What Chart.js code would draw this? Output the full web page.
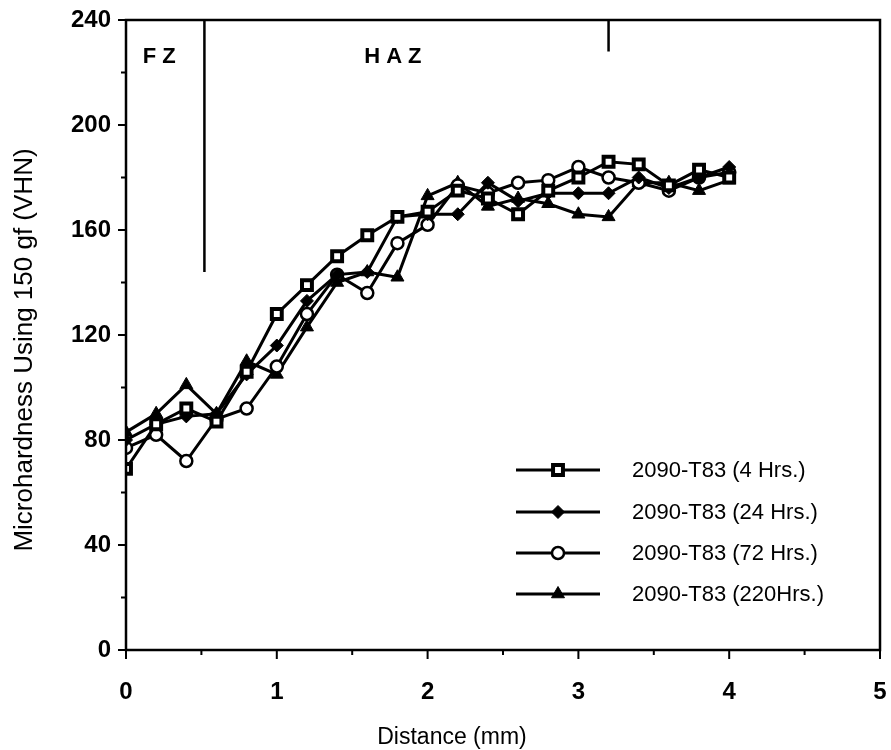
<!DOCTYPE html>
<html>
<head>
<meta charset="utf-8">
<script src="https://cdn.jsdelivr.net/npm/chart.js@4.4.1/dist/chart.umd.min.js"></script>
<style>
  html, body { margin: 0; padding: 0; background: #fff; }
  #wrap { width: 891px; height: 750px; }
</style>
</head>
<body>
<div id="wrap"><canvas id="chart" width="891" height="750"></canvas></div>
<script>
// --- data ---
const distances = [0, 0.2, 0.4, 0.6, 0.8, 1.0, 1.2, 1.4, 1.6, 1.8, 2.0, 2.2, 2.4, 2.6, 2.8, 3.0, 3.2, 3.4, 3.6, 3.8, 4.0];
const hrs4   = [69, 86, 92, 87, 106, 128, 139, 150, 158, 165, 167, 175, 172, 166, 175, 180, 186, 185, 177, 183, 180];
const hrs24  = [80, 86, 89, 90, 105, 116, 133, 143, 144, 165, 166, 166, 178, 171, 174, 174, 174, 180, 176, 180, 184];
const hrs72  = [77, 82, 72, 88, 92, 108, 128, 143, 136, 155, 162, 177, 174, 178, 179, 184, 180, 178, 175, 180, 182];
const hrs220 = [83, 90, 101, 90, 110, 105, 123, 140, 144, 142, 173, 178, 169, 172, 170, 166, 165, 178, 178, 175, 179];
const seriesNames = ["2090-T83 (4 Hrs.)", "2090-T83 (24 Hrs.)", "2090-T83 (72 Hrs.)", "2090-T83 (220Hrs.)"];
const yTicks = [0, 40, 80, 120, 160, 200, 240];
const xTicks = [0, 1, 2, 3, 4, 5];
const fzBoundary = 0.52;   // FZ / HAZ line
const hazEnd = 3.2;        // end of HAZ marker
const xTitle = "Distance (mm)";
const yTitle = "Microhardness Using 150 gf (VHN)";

const FONT = "'Liberation Sans', Arial, sans-serif";

function pts(vals) {
  return vals.map((v, i) => ({ x: distances[i], y: v }));
}

const markers = [
  { style: "rect",     bg: "#fff", r: 7, bw: 4 },
  { style: "rectRot",  bg: "#000", r: 6.5, bw: 1 },
  { style: "circle",   bg: "#fff", r: 6, bw: 2.5 },
  { style: "triangle", bg: "#000", r: 7.5, bw: 1 }
];

const datasets = [hrs4, hrs24, hrs72, hrs220].map((vals, i) => ({
  label: seriesNames[i],
  data: pts(vals),
  borderColor: "#000",
  borderWidth: 3,
  pointStyle: markers[i].style,
  pointRadius: markers[i].r,
  pointBackgroundColor: markers[i].bg,
  pointBorderColor: "#000",
  pointBorderWidth: markers[i].bw,
  tension: 0
}));

// frame, ticks, zone lines, titles, legend
const decor = {
  id: "decor",
  afterDraw(chart) {
    const ctx = chart.ctx;
    const a = chart.chartArea;
    const xs = chart.scales.x, ys = chart.scales.y;
    ctx.save();
    ctx.strokeStyle = "#000";
    ctx.lineWidth = 2.5;
    ctx.strokeRect(a.left, a.top, a.right - a.left, a.bottom - a.top);

    ctx.lineWidth = 2;
    ctx.beginPath();
    for (let v = 0; v <= 240; v += 20) {
      const y = ys.getPixelForValue(v);
      const len = v % 40 === 0 ? 8 : 5;
      ctx.moveTo(a.left, y); ctx.lineTo(a.left - len, y);
    }
    for (let v = 0; v <= 5; v += 0.5) {
      const x = xs.getPixelForValue(v);
      const len = Number.isInteger(v) ? 9 : 5;
      ctx.moveTo(x, a.bottom); ctx.lineTo(x, a.bottom + len);
    }
    ctx.stroke();

    // zone boundaries
    ctx.lineWidth = 2.5;
    ctx.beginPath();
    const xb = xs.getPixelForValue(fzBoundary);
    ctx.moveTo(xb, a.top); ctx.lineTo(xb, ys.getPixelForValue(144));
    const xe = xs.getPixelForValue(hazEnd);
    ctx.moveTo(xe, a.top); ctx.lineTo(xe, ys.getPixelForValue(228));
    ctx.stroke();

    ctx.fillStyle = "#000";
    ctx.font = "bold 22px " + FONT;
    ctx.textBaseline = "middle";
    ctx.textAlign = "center";
    ctx.letterSpacing = "6px";
    ctx.fillText("FZ", xs.getPixelForValue(0.22) + 3, ys.getPixelForValue(226));
    ctx.fillText("HAZ", xs.getPixelForValue(1.77) + 3, ys.getPixelForValue(226));
    ctx.letterSpacing = "0px";

    // axis titles
    ctx.font = "23px " + FONT;
    ctx.fillText(xTitle, 452, 738);
    ctx.save();
    ctx.translate(25, 350);
    ctx.rotate(-Math.PI / 2);
    ctx.font = "26px " + FONT;
    ctx.fillText(yTitle, 0, 0);
    ctx.restore();

    // legend
    ctx.font = "22px " + FONT;
    ctx.textAlign = "left";
    const rowY = [470, 512, 553, 594];
    chart.data.datasets.forEach((ds, i) => {
      const y = rowY[i];
      ctx.lineWidth = 3;
      ctx.strokeStyle = "#000";
      ctx.beginPath();
      ctx.moveTo(516, y); ctx.lineTo(600, y);
      ctx.stroke();
      ctx.lineWidth = ds.pointBorderWidth;
      ctx.fillStyle = ds.pointBackgroundColor;
      Chart.helpers.drawPoint(ctx, { pointStyle: ds.pointStyle, radius: ds.pointRadius, rotation: 0, borderWidth: ds.pointBorderWidth }, 558, y);
      ctx.fillStyle = "#000";
      ctx.fillText(ds.label, 632, y + 1);
    });
    ctx.restore();
  }
};

new Chart(document.getElementById("chart"), {
  type: "line",
  data: { datasets },
  options: {
    responsive: false,
    animation: false,
    layout: { padding: { left: 0, right: 11, top: 20, bottom: 0 } },
    plugins: { legend: { display: false }, tooltip: { enabled: false } },
    scales: {
      x: {
        type: "linear", min: 0, max: 5,
        afterBuildTicks: s => { s.ticks = xTicks.map(v => ({ value: v })); },
        afterFit: s => { s.height = 100; s.paddingLeft = 0; s.paddingRight = 0; },
        grid: { display: false, drawTicks: false }, border: { display: false },
        ticks: { color: "#000", padding: 28, maxRotation: 0, font: { family: FONT, size: 24, weight: "bold" } }
      },
      y: {
        min: 0, max: 240,
        afterBuildTicks: s => { s.ticks = yTicks.map(v => ({ value: v })); },
        afterFit: s => { s.width = 126; s.paddingTop = 0; s.paddingBottom = 0; },
        grid: { display: false, drawTicks: false }, border: { display: false },
        ticks: { color: "#000", padding: 15, font: { family: FONT, size: 24, weight: "bold" } }
      }
    }
  },
  plugins: [decor]
});
</script>
</body>
</html>
